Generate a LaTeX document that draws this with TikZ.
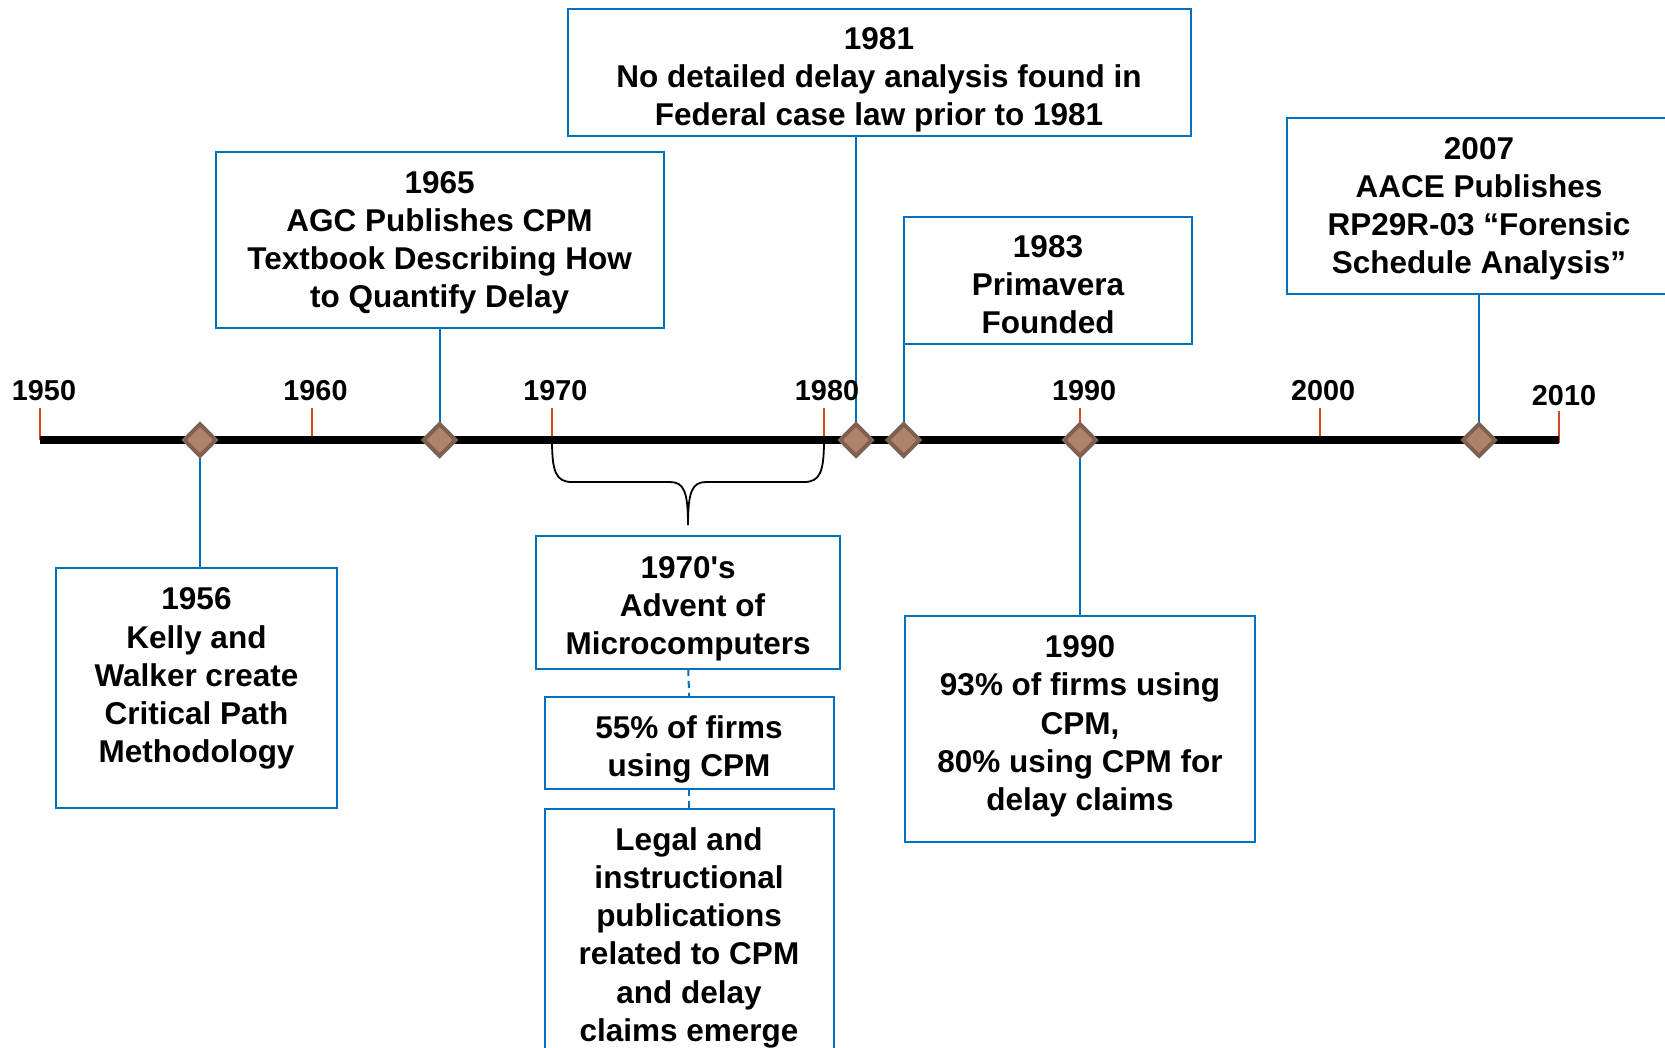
\documentclass[tikz,border=0pt]{standalone}
\usepackage{fontspec}
\newfontfamily\lsans{Liberation Sans}
\usetikzlibrary{backgrounds}
\definecolor{bblue}{RGB}{0,112,192}
\definecolor{tickred}{RGB}{211,71,38}
\definecolor{dfill}{RGB}{175,130,110}
\definecolor{dline}{RGB}{127,95,80}
\tikzset{
 txt/.style={font=\lsans\bfseries\fontsize{31.5}{38.2}\selectfont, align=center, inner sep=0},
 box/.style={draw=bblue, line width=2pt, inner sep=0, outer sep=0},
 yr/.style={font=\lsans\bfseries\fontsize{28.8}{34}\selectfont, anchor=base, inner sep=0},
 tck/.style={draw=tickred, line width=2pt},
 conn/.style={draw=bblue, line width=2pt},
 dconn/.style={draw=bblue, line width=2pt, dash pattern=on 7pt off 5pt},
 dmd/.style={rectangle, rotate=45, minimum size=22.5pt, inner sep=0, line width=4pt, draw=dline, fill=dfill},
 brc/.style={draw=black, line width=1.8pt},
 tline/.style={draw=black, line width=8pt},
}
\begin{document}
\begin{tikzpicture}[x=1pt,y=-1pt]
\useasboundingbox (0,0) rectangle (1665,1047);
\clip (0,0) rectangle (1665,1047);
% ticks
\foreach \n/\x in {a/40,b/312,c/552,d/824,e/1080,f/1320} {
  \coordinate (top\n) at (\x,408);
  \coordinate (bot\n) at (\x,440);
  \draw[tck] (top\n) -- (bot\n);
}
\coordinate (topg) at (1559,411);
\coordinate (botg) at (1559,443);
\draw[tck] (topg) -- (botg);
% timeline
\coordinate (tl0) at (40,440);
\coordinate (tl1) at (1559,440);
\draw[tline] (tl0) -- (tl1);
% year labels
\node[yr] (y1950) at (44,400) {1950};
\node[yr] (y1960) at (315.5,400) {1960};
\node[yr] (y1970) at (555.4,400) {1970};
\node[yr] (y1980) at (827,400) {1980};
\node[yr] (y1990) at (1084.2,400) {1990};
\node[yr] (y2000) at (1323.2,400) {2000};
\node[yr] (y2010) at (1564,405) {2010};
% brace over the 1970s
\draw[brc] (botc) .. controls (552,472) and (556,482) .. (572,482) -- (670,482)
  .. controls (684,482) and (688,492) .. (688,525)
  .. controls (688,492) and (692,482) .. (706,482) -- (804,482)
  .. controls (820,482) and (824,472) .. (botd);
% boxes
\node[box, minimum width=623pt, minimum height=127.5pt] (b1981) at (879.5,72.3) {};
\node[txt] (t1981) at (879,79.6) {1981\\No detailed delay analysis found in\\Federal case law prior to 1981};
\node[box, minimum width=448pt, minimum height=176pt] (b1965) at (439.6,240) {};
\node[txt] (t1965) at (439.6,242.7) {1965\\AGC Publishes CPM\\Textbook Describing How\\to Quantify Delay};
\node[box, minimum width=287.8pt, minimum height=127.4pt] (b1983) at (1047.6,280.3) {};
\node[txt] (t1983) at (1048,284.6) {1983\\Primavera\\Founded};
\node[box, minimum width=385pt, minimum height=175.5pt] (b2007) at (1479.8,205.8) {};
\node[txt] (t2007) at (1479,208.7) {2007\\AACE Publishes\\RP29R-03 “Forensic\\Schedule Analysis”};
\node[box, minimum width=280.3pt, minimum height=240pt] (b1956) at (196.5,688) {};
\node[txt] (t1956) at (196.5,678.6) {1956\\Kelly and\\Walker create\\Critical Path\\Methodology};
\node[box, minimum width=303.7pt, minimum height=132.7pt] (b1970) at (688.2,602.6) {};
\node[txt] (t1970) at (688.2,608.5) {1970's\\\ Advent of\\Microcomputers};
\node[box, minimum width=288.8pt, minimum height=92.4pt] (b55) at (689.2,742.8) {};
\node[txt] (t55) at (689,749.2) {55\% of firms\\using CPM};
\node[box, minimum width=288.8pt, minimum height=280pt] (blegal) at (689.2,949) {};
\node[txt] (tlegal) at (689,937.7) {Legal and\\instructional\\publications\\related to CPM\\and delay\\claims emerge};
\node[box, minimum width=350.3pt, minimum height=226pt] (b1990) at (1079.9,729) {};
\node[txt] (t1990) at (1080,726.4) {1990\\93\% of firms using\\CPM,\\80\% using CPM for\\delay claims};
% diamonds
\node[dmd] (d1956) at (200,440) {};
\node[dmd] (d1965) at (439.6,440) {};
\node[dmd] (d1981) at (856,440) {};
\node[dmd] (d1983) at (903.7,440) {};
\node[dmd] (d1990) at (1080,440) {};
\node[dmd] (d2007) at (1479,440) {};
% connectors
\begin{pgfonlayer}{background}
\draw[conn] (d1956.center) -- (d1956.center |- b1956.north);
\draw[conn] (d1965.center) -- (d1965.center |- b1965.south);
\draw[conn] (d1981.center) -- (d1981.center |- b1981.south);
\draw[conn] (d1983.center) -- (d1983.center |- b1983.south);
\draw[conn] (d1990.center) -- (d1990.center |- b1990.north);
\draw[conn] (d2007.center) -- (d2007.center |- b2007.south);
\draw[dconn] (b1970.south) -- (b55.north);
\draw[dconn] (b55.south) -- (blegal.north);
\end{pgfonlayer}
\end{tikzpicture}
\end{document}
